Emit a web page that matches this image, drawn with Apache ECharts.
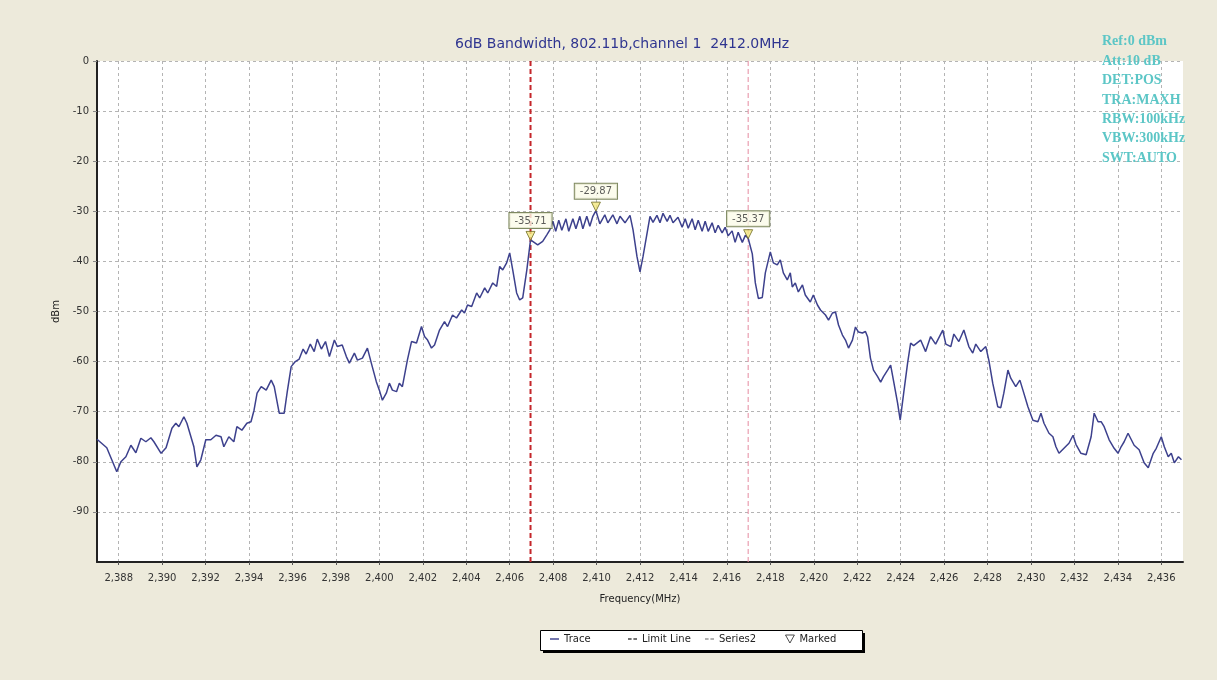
<!DOCTYPE html>
<html>
<head>
<meta charset="utf-8">
<script src="https://cdn.jsdelivr.net/npm/echarts@6/dist/echarts.min.js"></script>
<style>
  html, body { margin: 0; padding: 0; background: #edeadb; }
  #chart { width: 1217px; height: 680px; }
</style>
</head>
<body>
<div id="chart"></div>
<script>
// Spectrum analyser trace: frequency (MHz) and level (dBm)
const traceFreq = [
  2387.00, 2387.45, 2387.68, 2387.91, 2388.10, 2388.33, 2388.56, 2388.79, 2389.02, 2389.25,
  2389.48, 2389.62, 2389.95, 2390.18, 2390.45, 2390.63, 2390.77, 2391.00, 2391.14, 2391.46,
  2391.60, 2391.78, 2392.01, 2392.24, 2392.48, 2392.71, 2392.84, 2393.07, 2393.30, 2393.44,
  2393.67, 2393.90, 2394.09, 2394.23, 2394.37, 2394.56, 2394.79, 2395.02, 2395.16, 2395.39,
  2395.62, 2395.76, 2395.94, 2396.13, 2396.31, 2396.49, 2396.63, 2396.82, 2397.00, 2397.14,
  2397.33, 2397.52, 2397.70, 2397.93, 2398.06, 2398.29, 2398.48, 2398.62, 2398.85, 2398.99,
  2399.22, 2399.45, 2399.63, 2399.86, 2400.00, 2400.14, 2400.32, 2400.46, 2400.60, 2400.79,
  2400.92, 2401.06, 2401.29, 2401.48, 2401.71, 2401.94, 2402.08, 2402.22, 2402.40, 2402.54,
  2402.77, 2403.00, 2403.14, 2403.37, 2403.55, 2403.79, 2403.92, 2404.06, 2404.25, 2404.48,
  2404.62, 2404.85, 2404.99, 2405.22, 2405.40, 2405.54, 2405.68, 2405.86, 2406.00, 2406.14,
  2406.32, 2406.46, 2406.60, 2406.79, 2406.96, 2407.06, 2407.29, 2407.52, 2407.71, 2407.85,
  2407.99, 2408.12, 2408.26, 2408.40, 2408.59, 2408.72, 2408.91, 2409.05, 2409.23, 2409.37,
  2409.55, 2409.69, 2409.83, 2409.97, 2410.15, 2410.38, 2410.52, 2410.75, 2410.94, 2411.08,
  2411.31, 2411.54, 2411.68, 2411.86, 2412.00, 2412.14, 2412.32, 2412.46, 2412.60, 2412.78,
  2412.92, 2413.06, 2413.25, 2413.38, 2413.52, 2413.75, 2413.94, 2414.08, 2414.22, 2414.40,
  2414.54, 2414.68, 2414.86, 2415.00, 2415.14, 2415.32, 2415.46, 2415.60, 2415.78, 2415.92,
  2416.06, 2416.24, 2416.38, 2416.52, 2416.71, 2416.85, 2416.98, 2417.17, 2417.31, 2417.45,
  2417.63, 2417.77, 2418.00, 2418.14, 2418.32, 2418.46, 2418.60, 2418.78, 2418.92, 2419.01,
  2419.15, 2419.29, 2419.48, 2419.61, 2419.84, 2419.98, 2420.17, 2420.31, 2420.54, 2420.68,
  2420.86, 2421.00, 2421.14, 2421.32, 2421.46, 2421.60, 2421.78, 2421.92, 2422.06, 2422.24,
  2422.38, 2422.48, 2422.61, 2422.75, 2422.94, 2423.08, 2423.21, 2423.40, 2423.54, 2423.68,
  2423.86, 2423.98, 2424.14, 2424.32, 2424.46, 2424.60, 2424.92, 2425.15, 2425.38, 2425.61,
  2425.94, 2426.08, 2426.31, 2426.45, 2426.68, 2426.91, 2427.14, 2427.32, 2427.46, 2427.69,
  2427.92, 2428.06, 2428.24, 2428.47, 2428.61, 2428.75, 2428.94, 2429.07, 2429.30, 2429.49,
  2429.63, 2429.86, 2430.09, 2430.32, 2430.46, 2430.60, 2430.83, 2431.01, 2431.15, 2431.29,
  2431.52, 2431.75, 2431.94, 2432.07, 2432.30, 2432.54, 2432.77, 2432.91, 2433.09, 2433.23,
  2433.37, 2433.60, 2433.83, 2434.01, 2434.15, 2434.29, 2434.47, 2434.61, 2434.75, 2434.98,
  2435.21, 2435.40, 2435.63, 2435.77, 2436.00, 2436.14, 2436.32, 2436.46, 2436.60, 2436.79,
  2436.93
];
const traceLevel = [
  -75.5, -77.2, -79.6, -82.0, -80.0, -79.0, -76.7, -78.2, -75.3, -76.0,
  -75.2, -76.0, -78.3, -77.2, -73.3, -72.3, -73.0, -71.0, -72.3, -77.0,
  -81.0, -79.6, -75.6, -75.6, -74.7, -75.0, -77.0, -75.0, -76.0, -73.0,
  -73.7, -72.3, -72.0, -69.7, -66.3, -65.0, -65.7, -63.7, -65.0, -70.3,
  -70.3, -66.0, -61.0, -60.0, -59.5, -57.5, -58.5, -56.5, -58.0, -55.5,
  -57.5, -56.0, -59.0, -55.7, -57.0, -56.7, -59.0, -60.3, -58.3, -59.7,
  -59.3, -57.3, -60.3, -64.0, -65.7, -67.7, -66.3, -64.3, -65.7, -66.0,
  -64.3, -65.0, -59.7, -56.0, -56.3, -53.0, -55.0, -55.7, -57.3, -56.7,
  -53.7, -52.0, -53.0, -50.7, -51.3, -49.7, -50.3, -48.7, -49.0, -46.3,
  -47.3, -45.3, -46.3, -44.3, -45.0, -41.0, -41.7, -40.3, -38.3, -41.7,
  -46.3, -47.7, -47.3, -41.7, -35.71, -36.0, -36.7, -36.0, -34.7, -33.7,
  -32.0, -34.0, -31.8, -33.8, -31.5, -34.0, -31.5, -33.5, -31.0, -33.5,
  -31.0, -33.0, -31.0, -29.87, -32.5, -30.7, -32.3, -30.7, -32.5, -31.0,
  -32.3, -30.8, -33.7, -39.0, -42.1, -39.0, -34.5, -31.0, -32.2, -30.8,
  -32.3, -30.4, -32.0, -30.8, -32.3, -31.2, -33.2, -31.5, -33.4, -31.5,
  -33.7, -31.8, -34.0, -32.0, -34.0, -32.3, -34.3, -32.8, -34.3, -33.2,
  -34.9, -33.9, -36.2, -34.2, -36.2, -34.8, -35.37, -38.5, -44.3, -47.4,
  -47.2, -42.3, -38.1, -40.3, -40.7, -39.7, -42.3, -43.7, -42.3, -45.1,
  -44.3, -46.1, -44.7, -46.7, -48.1, -46.7, -48.7, -49.7, -50.7, -51.7,
  -50.3, -50.1, -52.7, -54.7, -55.7, -57.3, -55.7, -53.1, -54.1, -54.3,
  -54.0, -55.1, -59.3, -61.7, -63.0, -64.1, -63.0, -61.7, -60.7, -64.0,
  -68.3, -71.7, -66.3, -60.3, -56.3, -56.8, -55.7, -58.0, -55.0, -56.5,
  -53.7, -56.5, -57.0, -54.5, -56.0, -53.7, -57.0, -58.3, -56.5, -58.0,
  -57.0, -59.7, -64.3, -69.0, -69.2, -66.3, -61.7, -63.3, -65.0, -63.7,
  -65.7, -69.0, -71.7, -72.0, -70.3, -72.3, -74.3, -75.0, -77.0, -78.3,
  -77.3, -76.3, -74.7, -76.5, -78.3, -78.6, -75.0, -70.3, -72.0, -72.0,
  -73.0, -75.6, -77.3, -78.3, -77.0, -76.0, -74.3, -75.5, -76.7, -77.6,
  -80.2, -81.2, -78.3, -77.3, -75.0, -77.0, -79.0, -78.3, -80.2, -79.0,
  -79.6
];

// Marker readouts (frequency, level)
const markerFreq = [2406.96, 2409.97, 2416.98];
const markerLevel = [-35.71, -29.87, -35.37];

// 6 dB bandwidth edges
const limitLineFreq = 2406.96;
const series2Freq = 2416.98;

// Axis ticks
const freqTicks = [2388, 2390, 2392, 2394, 2396, 2398, 2400, 2402, 2404, 2406, 2408, 2410,
  2412, 2414, 2416, 2418, 2420, 2422, 2424, 2426, 2428, 2430, 2432, 2434, 2436];
const levelTicks = [0, -10, -20, -30, -40, -50, -60, -70, -80, -90];

// Analyser settings panel
const settingsLines = ['Ref:0 dBm', 'Att:10 dB', 'DET:POS', 'TRA:MAXH', 'RBW:100kHz', 'VBW:300kHz', 'SWT:AUTO'];

const chartTitle = '6dB Bandwidth, 802.11b,channel 1  2412.0MHz';

// Legend entries, one slot each in the boxed strip
const legendNames = ['Trace', 'Limit Line', 'Series2', 'Marked'];

const withComma = v => String(v).replace(/\B(?=(\d{3})+(?!\d))/g, ',');

const traceData = traceFreq.map((f, i) => [f, traceLevel[i]]);
const markerData = markerFreq.map((f, i) => [f, markerLevel[i]]);

const chart = echarts.init(document.getElementById('chart'), null, { renderer: 'canvas' });

const gridDash = { color: '#b4b4b4', width: 1, type: [3, 3] };
const font = '"DejaVu Sans", sans-serif';

// legend glyphs: solid bar, dashed bar, downward triangle
const legendIcons = [
  { icon: 'path://M0,0 H10 V1.6 H0 Z', itemStyle: { color: '#3d418d' } },
  { icon: 'path://M0,0 H4 V1.6 H0 Z M6,0 H10 V1.6 H6 Z', itemStyle: { color: '#444' } },
  { icon: 'path://M0,0 H4 V1.6 H0 Z M6,0 H10 V1.6 H6 Z', itemStyle: { color: '#999' } },
  { icon: 'path://M0,0 L10,0 L5,9 Z', itemStyle: { color: '#ffffff', borderColor: '#222', borderWidth: 1 } }
];
const legendSlotLeft = [550, 628, 705, 785];

const legends = legendNames.map((name, i) => ({
  left: legendSlotLeft[i], top: 634,
  padding: 0,
  itemWidth: 9, itemHeight: 8,
  textStyle: { fontSize: 10, color: '#222', fontFamily: font },
  z: 6,
  data: [Object.assign({ name: name }, legendIcons[i])]
}));

chart.setOption({
  backgroundColor: '#edeadb',
  animation: false,
  textStyle: { fontFamily: font },
  title: [
    {
      text: chartTitle,
      left: 450, top: 32,
      textStyle: { fontSize: 14, fontWeight: 'normal', color: '#2f3590', fontFamily: font }
    },
    {
      text: settingsLines.join('\n'),
      left: 1097, top: 27,
      textStyle: { fontSize: 14, fontWeight: 'bold', color: '#5cc6c6', lineHeight: 19.4, fontFamily: '"Liberation Serif", serif' }
    }
  ],
  graphic: [
    {
      // drop shadow behind the legend strip
      type: 'rect',
      left: 543, top: 633,
      z: 1,
      shape: { width: 322, height: 20 },
      style: { fill: '#000000' }
    },
    {
      // framed strip holding the legend entries
      type: 'rect',
      left: 540, top: 630,
      z: 2,
      shape: { width: 322, height: 20 },
      style: { fill: '#ffffff', stroke: '#000000', lineWidth: 1 }
    }
  ],
  grid: { left: 97, right: 34, top: 61, bottom: 118, show: true, backgroundColor: '#ffffff', borderWidth: 0 },
  legend: legends,
  xAxis: {
    type: 'value',
    min: 2387, max: 2437,
    name: 'Frequency(MHz)', nameLocation: 'middle', nameGap: 32,
    nameTextStyle: { fontSize: 10, color: '#222' },
    axisLine: { show: true, onZero: false, lineStyle: { color: '#222', width: 2 } },
    axisTick: { show: true, customValues: freqTicks, length: 3, lineStyle: { color: '#555' } },
    axisLabel: { customValues: freqTicks, formatter: v => withComma(v), fontSize: 10, color: '#333', margin: 11 },
    splitLine: { show: true, lineStyle: gridDash }
  },
  yAxis: {
    type: 'value',
    min: -100, max: 0,
    name: 'dBm', nameLocation: 'middle', nameGap: 28, nameRotate: 90,
    nameTextStyle: { fontSize: 10, color: '#222' },
    axisLine: { show: true, onZero: false, lineStyle: { color: '#222', width: 2 } },
    axisTick: { show: true, customValues: levelTicks, length: 4, lineStyle: { color: '#888' } },
    axisLabel: { customValues: levelTicks, fontSize: 10, color: '#333', margin: 8 },
    splitLine: { show: true, lineStyle: gridDash }
  },
  series: [
    {
      name: 'Trace',
      type: 'line',
      data: traceData,
      symbol: 'none',
      lineStyle: { color: '#3d418d', width: 1.5 },
      itemStyle: { color: '#3d418d' },
      z: 3
    },
    {
      name: 'Limit Line',
      type: 'line',
      data: [[limitLineFreq, -100], [limitLineFreq, 0]],
      symbol: 'none',
      lineStyle: { color: '#c4262b', width: 2, type: [5, 3] },
      itemStyle: { color: '#c4262b' },
      z: 2
    },
    {
      name: 'Series2',
      type: 'line',
      data: [[series2Freq, -100], [series2Freq, 0]],
      symbol: 'none',
      lineStyle: { color: '#e58aa0', width: 1, type: [5, 3] },
      itemStyle: { color: '#e58aa0' },
      z: 2
    },
    {
      name: 'Marked',
      type: 'scatter',
      data: markerData,
      symbol: 'triangle',
      symbolRotate: 180,
      symbolSize: 9,
      symbolOffset: [0, -4],
      itemStyle: { color: '#f3e77e', borderColor: '#6e6a22', borderWidth: 1 },
      label: {
        show: true,
        position: 'top',
        distance: 3,
        formatter: p => p.value[1].toFixed(2),
        fontSize: 10,
        color: '#333',
        backgroundColor: '#fbfbe8',
        borderColor: '#5f6b3a',
        borderWidth: 1,
        padding: [3, 5, 2, 5]
      },
      z: 5
    }
  ]
});
</script>
</body>
</html>
